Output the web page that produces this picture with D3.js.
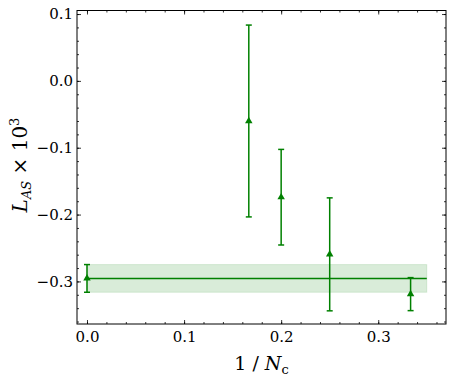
<!DOCTYPE html>
<html>
<head>
<meta charset="utf-8">
<script src="https://cdn.jsdelivr.net/npm/d3@7"></script>
<style>
body{margin:0;background:#fff;}
svg text{font-family:"DejaVu Serif",serif;fill:#000;}
</style>
</head>
<body>
<svg id="svg" width="453" height="381"></svg>
<script>
// data
var invNc=[0,1/6,1/5,1/4,1/3];
var lasVal=[-0.2955,-0.060,-0.174,-0.2595,-0.319];
var lasErr=[0.0207,0.1435,0.0715,0.0845,0.0247];
var fitVal=-0.2955;
var fitErr=0.0207;
var fitRange=[0,0.35];
var xTicks=[0,0.1,0.2,0.3];
var yTicks=[-0.3,-0.2,-0.1,0.0,0.1];

var green="#008000";
var mLeft=77,mTop=10.5,mRight=446,mBottom=324;
var width=mRight-mLeft,height=mBottom-mTop;

var svg=d3.select("#svg").append("g")
        .attr("transform","translate("+mLeft+","+mTop+")")

var x=d3.scaleLinear().domain([-0.0103,0.3698]).range([0,width])
var y=d3.scaleLinear().domain([-0.3637,0.1053]).range([height,0])

var xMinor=d3.range(0,0.37,0.02)
var yMinor=d3.range(-0.36,0.105,0.02)

//fit band and line
svg.append("rect")
        .attr("x",x(fitRange[0]))
        .attr("y",y(fitVal+fitErr))
        .attr("width",x(fitRange[1])-x(fitRange[0]))
        .attr("height",y(fitVal-fitErr)-y(fitVal+fitErr))
        .attr("fill",green).attr("fill-opacity",0.15)
        .attr("stroke",green).attr("stroke-opacity",0.12)
svg.append("line")
        .attr("x1",x(fitRange[0])).attr("x2",x(fitRange[1]))
        .attr("y1",y(fitVal)).attr("y2",y(fitVal))
        .attr("stroke",green).attr("stroke-width",1.5)

//error bars
var pts=invNc.map((d,i)=>({x:d,y:lasVal[i],e:lasErr[i]}))
var eb=svg.selectAll(".eb").data(pts).enter().append("g").attr("class","eb")
        .attr("stroke",green).attr("stroke-width",1.5)
eb.append("line")
        .attr("x1",d=>x(d.x)).attr("x2",d=>x(d.x))
        .attr("y1",d=>y(d.y-d.e)).attr("y2",d=>y(d.y+d.e))
eb.append("line")
        .attr("x1",d=>x(d.x)-3).attr("x2",d=>x(d.x)+3)
        .attr("y1",d=>y(d.y+d.e)).attr("y2",d=>y(d.y+d.e))
eb.append("line")
        .attr("x1",d=>x(d.x)-3).attr("x2",d=>x(d.x)+3)
        .attr("y1",d=>y(d.y-d.e)).attr("y2",d=>y(d.y-d.e))
svg.selectAll(".pt").data(pts).enter().append("path").attr("class","pt")
        .attr("d",d3.symbol().type(d3.symbolTriangle).size(24))
        .attr("transform",d=>"translate("+x(d.x)+","+y(d.y)+")")
        .attr("fill",green)

//axes, ticks inward on all sides
function styleAxis(g){
    g.select(".domain").remove();
    g.selectAll("line").attr("stroke","#000").attr("stroke-width",0.8);
    g.selectAll("text").style("font-size","15px").style("font-family","DejaVu Serif");
}
var fmt=d3.format(".1f")
svg.append("g").attr("transform","translate(0,"+height+")")
    .call(d3.axisBottom(x).tickValues(xTicks).tickFormat(fmt).tickSize(-4).tickPadding(7)).call(styleAxis)
svg.append("g").attr("transform","translate(0,"+height+")")
    .call(d3.axisBottom(x).tickValues(xMinor).tickFormat("").tickSize(-2)).call(styleAxis)
svg.append("g")
    .call(d3.axisTop(x).tickValues(xTicks).tickFormat("").tickSize(-4)).call(styleAxis)
svg.append("g")
    .call(d3.axisTop(x).tickValues(xMinor).tickFormat("").tickSize(-2)).call(styleAxis)
svg.append("g")
    .call(d3.axisLeft(y).tickValues(yTicks).tickFormat(fmt).tickSize(-4).tickPadding(4)).call(styleAxis)
svg.append("g")
    .call(d3.axisLeft(y).tickValues(yMinor).tickFormat("").tickSize(-2)).call(styleAxis)
svg.append("g").attr("transform","translate("+width+",0)")
    .call(d3.axisRight(y).tickValues(yTicks).tickFormat("").tickSize(-4)).call(styleAxis)
svg.append("g").attr("transform","translate("+width+",0)")
    .call(d3.axisRight(y).tickValues(yMinor).tickFormat("").tickSize(-2)).call(styleAxis)

svg.append("rect").attr("width",width).attr("height",height)
        .attr("fill","none").attr("stroke","#000").attr("stroke-width",1)

//axis titles
var xt=svg.append("text")
        .attr("x",width/2).attr("y",height+46)
        .attr("text-anchor","middle").style("font-size","19px")
xt.append("tspan").text("1 / ")
xt.append("tspan").text("N").style("font-style","italic")
xt.append("tspan").text("c").attr("dy",4).style("font-size","13px")

var yt=svg.append("text")
        .attr("transform","translate("+(27-mLeft)+","+(165-mTop)+") rotate(-90)")
        .attr("text-anchor","middle").style("font-size","20px")
yt.append("tspan").text("L").style("font-style","italic")
yt.append("tspan").text("AS").attr("dy",4).style("font-size","13px").style("font-style","italic")
yt.append("tspan").text(" \u00d7 10").attr("dy",-4)
yt.append("tspan").text("3").attr("dy",-8).style("font-size","13px")
</script>
</body>
</html>
